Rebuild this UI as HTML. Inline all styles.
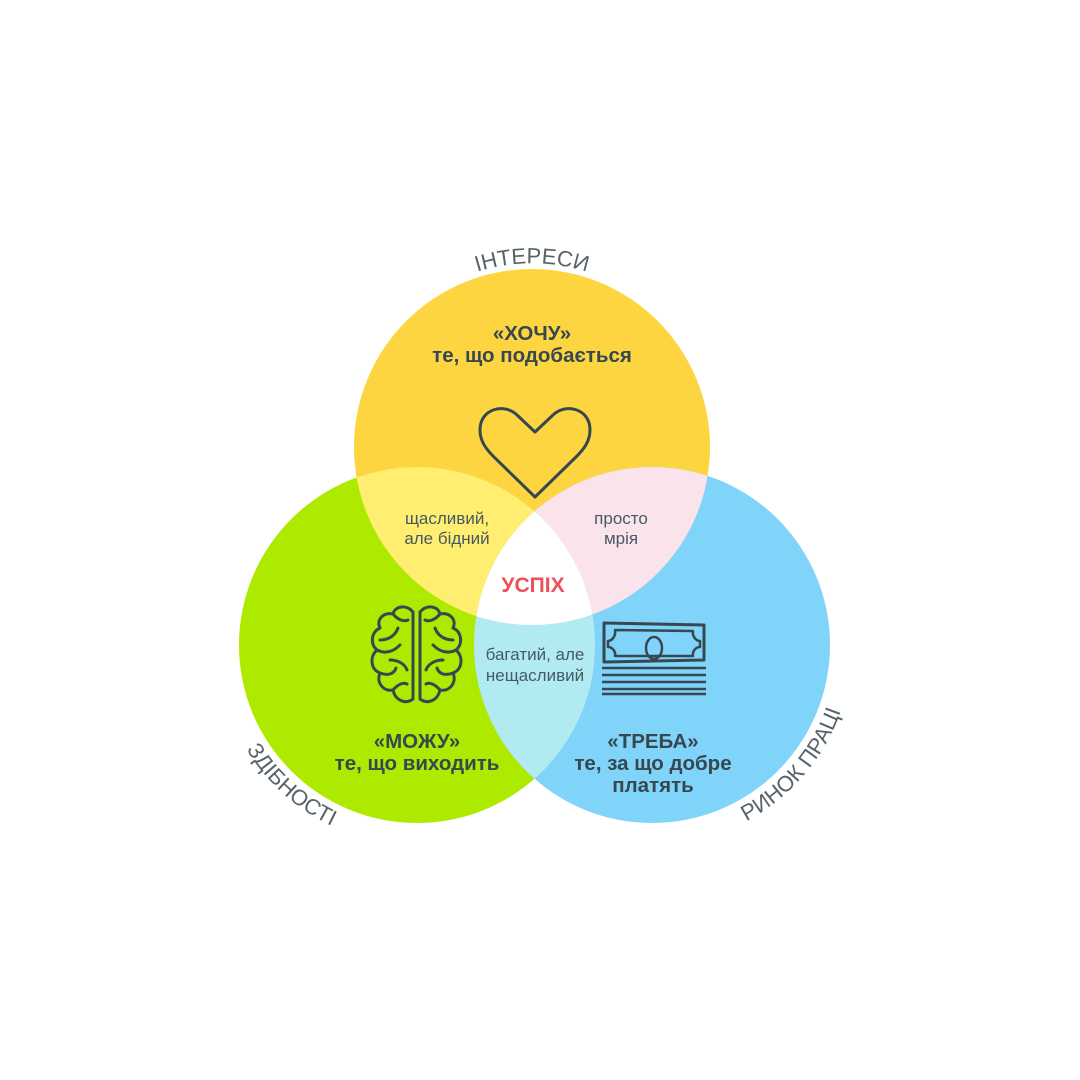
<!DOCTYPE html>
<html><head><meta charset="utf-8"><style>
html,body{margin:0;padding:0;background:#fff;}
svg{display:block;}
text{font-family:"Liberation Sans","DejaVu Sans",sans-serif;}
</style></head><body>
<svg width="1080" height="1080" viewBox="0 0 1080 1080" xmlns="http://www.w3.org/2000/svg">
<defs>
<clipPath id="cT"><circle cx="532" cy="447" r="178"/></clipPath>
<clipPath id="cL"><circle cx="417" cy="645" r="178"/></clipPath>
<clipPath id="cR"><circle cx="652" cy="645" r="178"/></clipPath>
<path id="arcT" d="M 440 288 A 184 184 0 0 1 624 288"/>
<path id="arcL" d="M 229 713 A 200 200 0 0 0 382 842"/>
<path id="arcR" d="M 704 838 A 200 200 0 0 0 849 680"/>
</defs>
<rect width="1080" height="1080" fill="#fff"/>
<circle cx="532" cy="447" r="178" fill="#FDD540"/>
<circle cx="417" cy="645" r="178" fill="#AEEA00"/>
<circle cx="652" cy="645" r="178" fill="#80D4FA"/>
<g clip-path="url(#cT)"><circle cx="417" cy="645" r="178" fill="#FFEE70"/><circle cx="652" cy="645" r="178" fill="#FBE3EC"/></g>
<g clip-path="url(#cL)"><circle cx="652" cy="645" r="178" fill="#B2EAF2"/></g>
<g clip-path="url(#cL)"><g clip-path="url(#cR)"><circle cx="532" cy="447" r="178" fill="#fff"/></g></g>

<text font-size="22" fill="#56646a"><textPath href="#arcT" startOffset="50%" text-anchor="middle">ІНТЕРЕСИ</textPath></text>
<text font-size="22" fill="#56646a"><textPath href="#arcL" startOffset="47%" text-anchor="middle">ЗДІБНОСТІ</textPath></text>
<text font-size="22" fill="#56646a"><textPath href="#arcR" startOffset="53%" text-anchor="middle">РИНОК ПРАЦІ</textPath></text>

<g fill="#37474f" font-weight="bold" font-size="20.5" text-anchor="middle">
<text x="532" y="340">«ХОЧУ»</text>
<text x="532" y="362">те, що подобається</text>
<text x="417" y="748">«МОЖУ»</text>
<text x="417" y="770">те, що виходить</text>
<text x="653" y="748">«ТРЕБА»</text>
<text x="653" y="770">те, за що добре</text>
<text x="653" y="792">платять</text>
</g>
<g fill="#455a64" font-size="17" text-anchor="middle">
<text x="447" y="524">щасливий,</text>
<text x="447" y="544">але бідний</text>
<text x="621" y="524">просто</text>
<text x="621" y="544">мрія</text>
<text x="535" y="660">багатий, але</text>
<text x="535" y="681">нещасливий</text>
</g>
<text x="533" y="592" font-size="21" font-weight="bold" fill="#f04e5a" text-anchor="middle">УСПІХ</text>

<path d="M535 432 L517 415 C505 403 480 408 480 430 C480 442 487 450 494 457 L535 497 L576 457 C583 450 590 442 590 430 C590 408 565 403 553 415 Z" fill="none" stroke="#37474f" stroke-width="3" stroke-linejoin="round"/>

<g fill="none" stroke="#37474f" stroke-width="3" stroke-linecap="round" stroke-linejoin="round">
<path d="M413 612 C406 604 395 606 393 614 C383 612 376 620 380 628 C371 632 370 644 377 650 C369 657 371 670 380 673 C376 682 383 692 393 690 C395 700 405 705 413 699 Z"/>
<path d="M420 612 C427 604 438 606 440 614 C450 612 457 620 453 628 C462 632 463 644 456 650 C464 657 462 670 453 673 C457 682 450 692 440 690 C438 700 428 705 420 699 Z"/>
<path d="M393 614 C398 620 404 622 408 620 M380 640 C390 640 396 634 398 628 M377 650 C387 655 395 650 400 645 M390 660 C398 660 405 664 407 670 M380 673 C388 676 394 674 396 668 M393 690 C398 684 404 682 407 684"/>
<path d="M440 614 C435 620 429 622 425 620 M453 640 C443 640 437 634 435 628 M456 650 C446 655 438 650 433 645 M443 660 C435 660 428 664 426 670 M453 673 C445 676 439 674 437 668 M440 690 C435 684 429 682 426 684"/>
</g>

<g fill="none" stroke="#37474f" stroke-width="3" stroke-linejoin="round">
<path d="M604 623 L704 625 L704 660 L604 662 Z"/>
<path d="M615 630 L693 631 C692 636 696 641 700 641 L700 647 C696 647 692 651 693 656 L615 656 C616 651 612 647 608 647 L608 641 C612 641 616 636 615 630 Z" stroke-width="2.5"/>
<ellipse cx="654" cy="648" rx="8" ry="11" stroke-width="2.5"/>
<path d="M602 668 L706 668 M602 675 L706 675 M602 682 L706 682 M602 689 L706 689 M602 694 L706 694" stroke-width="2.5"/>
</g>
</svg>
</body></html>
